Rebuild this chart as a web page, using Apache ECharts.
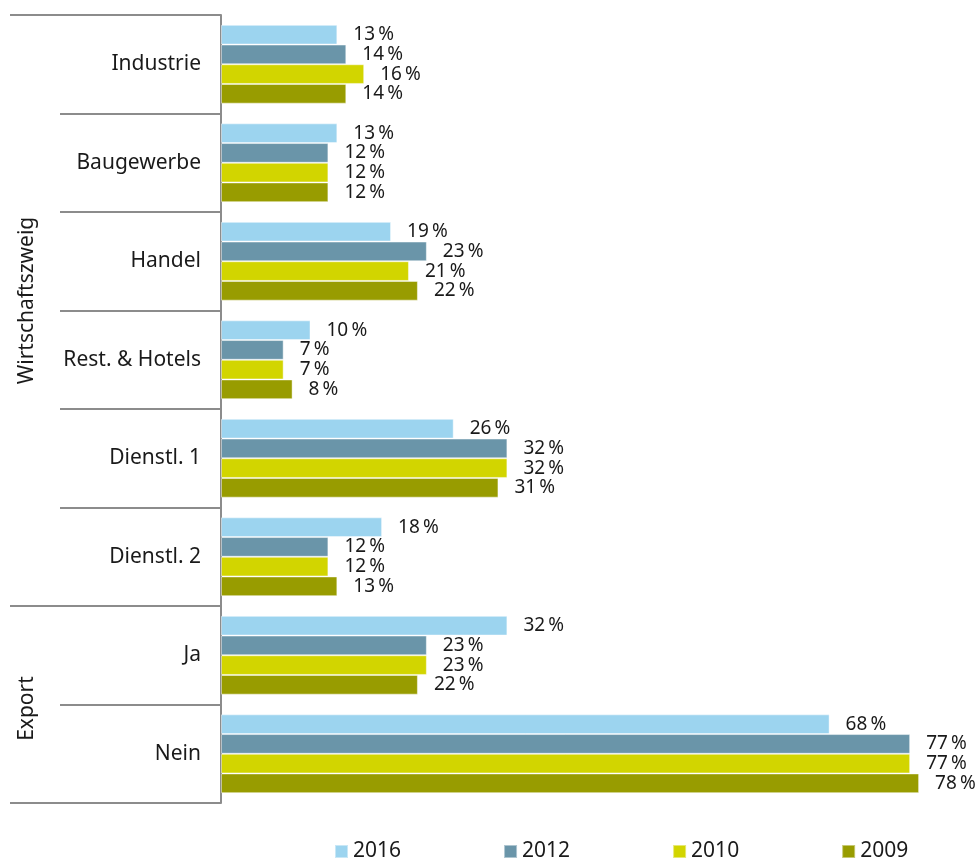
<!DOCTYPE html>
<html>
<head>
<meta charset="utf-8">
<script src="https://cdn.jsdelivr.net/npm/echarts@6/dist/echarts.min.js"></script>
<style>html,body{margin:0;padding:0;background:#fff}#c{width:978px;height:862px}</style>
</head>
<body>
<div id="c"></div>
<script>
var categories = ['Industrie','Baugewerbe','Handel','Rest. & Hotels','Dienstl. 1','Dienstl. 2','Ja','Nein'];
var years = ['2016','2012','2010','2009'];
var v2016 = [13,13,19,10,26,18,32,68];
var v2012 = [14,12,23,7,32,12,23,77];
var v2010 = [16,12,21,7,32,12,23,77];
var v2009 = [14,12,22,8,31,13,22,78];
var groupNames = ['Wirtschaftszweig','Export'];
var groupFrom = [0, 6];
var groupTo = [5, 7];
var colors = ['#9CD4EF','#6A95A9','#D2D500','#989C00'];
var FONT = '"Noto Sans", sans-serif';

var seriesValues = [v2016, v2012, v2010, v2009];
var chart = echarts.init(document.getElementById('c'));
var series = years.map(function(y, i){
  return {
    name: y, type: 'bar', data: seriesValues[i],
    barGap: '0%', barCategoryGap: '20%',
    itemStyle: {color: colors[i], borderColor: 'rgba(255,255,255,0.45)', borderWidth: 1},
    label: {show: true, position: 'right', distance: 16, formatter: '{c}\u2009%', color: '#1a1a1a', fontSize: 19, fontFamily: FONT},
    emphasis: {disabled: true}
  };
});
chart.setOption({
  animation: false,
  color: colors,
  grid: {left: 221, right: 41, top: 15, bottom: 59, containLabel: false},
  xAxis: {type: 'value', min: 0, max: 80, show: false},
  yAxis: {
    type: 'category', data: categories, inverse: true,
    axisLine: {show: true, lineStyle: {color: '#8c8c8c', width: 2}},
    axisTick: {show: true, length: 161, lineStyle: {color: '#8c8c8c', width: 2}},
    axisLabel: {color: '#1a1a1a', fontSize: 21, fontFamily: FONT, margin: 20}
  },
  legend: {
    data: years, left: 329, top: 836, itemWidth: 13, itemHeight: 13, itemGap: 102,
    icon: 'rect', textStyle: {fontSize: 21, color: '#1a1a1a', fontFamily: FONT}
  },
  series: series
});

// Group separators and labels computed from the category axis scale
function boundary(idx){
  var band = Math.abs(chart.convertToPixel({yAxisIndex:0}, categories[1]) - chart.convertToPixel({yAxisIndex:0}, categories[0]));
  if (idx >= categories.length) return chart.convertToPixel({yAxisIndex: 0}, categories[categories.length-1]) + band/2;
  return chart.convertToPixel({yAxisIndex: 0}, categories[idx]) - band/2;
}
var axisX = chart.convertToPixel({xAxisIndex: 0}, 0);
var graphics = [];
var bset = {};
groupNames.forEach(function(g, i){ bset[groupFrom[i]] = 1; bset[groupTo[i]+1] = 1; });
Object.keys(bset).forEach(function(k){
  var y = boundary(+k);
  graphics.push({type:'line', shape:{x1:10, y1:y, x2:axisX-161, y2:y}, style:{stroke:'#8c8c8c', lineWidth:2}, silent:true});
});
var nudge = [-10, 4];
groupNames.forEach(function(g, i){
  var y1 = boundary(groupFrom[i]), y2 = boundary(groupTo[i]+1);
  graphics.push({type:'text', x:27, y:(y1+y2)/2 + nudge[i], rotation:Math.PI/2,
    style:{text:g, fill:'#1a1a1a', fontSize:21, fontFamily:FONT, align:'center', verticalAlign:'middle'}, silent:true});
});
chart.setOption({graphic: graphics});
</script>
</body>
</html>
